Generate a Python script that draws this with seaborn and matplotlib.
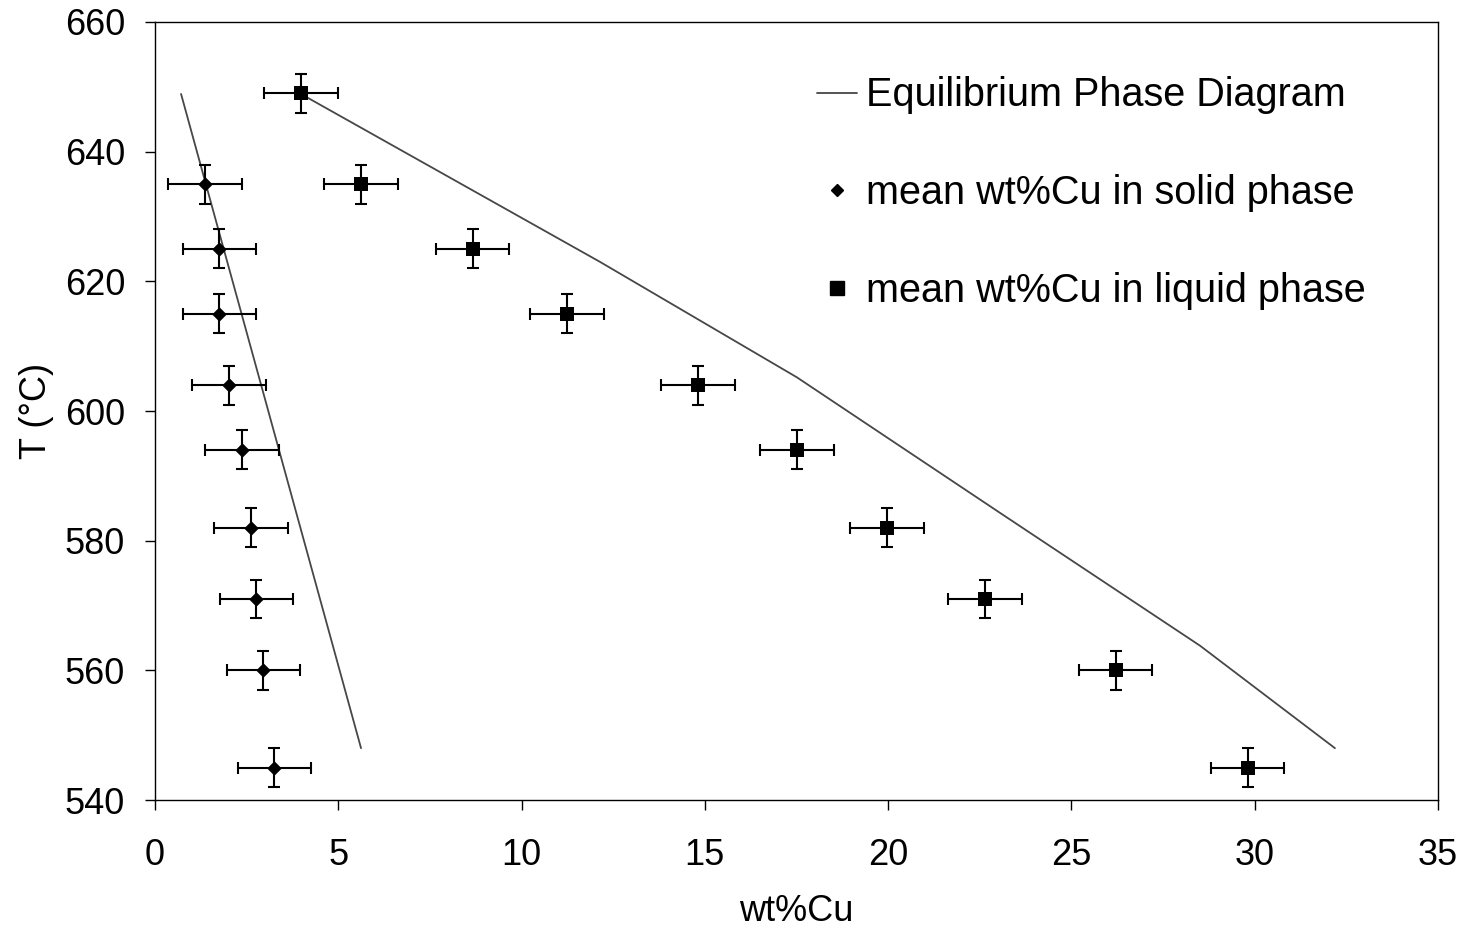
"""Al-Cu phase diagram with measured solid/liquid compositions."""

import matplotlib
matplotlib.use("Agg")
import matplotlib.pyplot as plt
from matplotlib.lines import Line2D
import pandas as pd
import seaborn as sns

# measured compositions (wt%Cu) at each hold temperature
temps = [649, 635, 625, 615, 604, 594, 582, 571, 560, 545]
solid_temps = [635, 625, 615, 604, 594, 582, 571, 560, 545]
solid_wt = [1.36, 1.75, 1.75, 2.02, 2.37, 2.62, 2.76, 2.95, 3.25]
liquid_wt = [3.98, 5.62, 8.67, 11.24, 14.81, 17.51, 19.97, 22.64, 26.21, 29.81]
wt_err = 1.0
t_err = 3.0

# equilibrium boundaries
solidus_wt = [0.71, 5.62]
solidus_t = [648.9, 548.0]
liquidus_wt = [3.98, 12.14, 17.51, 23.05, 28.51, 32.19]
liquidus_t = [648.9, 623.0, 605.2, 584.3, 563.8, 548.0]

x_ticks = [0, 5, 10, 15, 20, 25, 30, 35]
y_ticks = [540, 560, 580, 600, 620, 640, 660]

sns.set_theme(style="white")
plt.rcParams["font.family"] = ["Liberation Sans", "DejaVu Sans"]
plt.rcParams.update({"text.color": "black", "axes.labelcolor": "black",
                     "xtick.color": "black", "ytick.color": "black"})

boundary = pd.DataFrame({
    "wt": solidus_wt + liquidus_wt,
    "T": solidus_t + liquidus_t,
    "curve": ["solidus"] * len(solidus_wt) + ["liquidus"] * len(liquidus_wt),
})
solid = pd.DataFrame({"wt": solid_wt, "T": solid_temps})
liquid = pd.DataFrame({"wt": liquid_wt, "T": temps})

fig = plt.figure(figsize=(14.64, 9.32), dpi=100)
ax = fig.add_axes([0.1059, 0.1416, 0.8763, 0.8348])

line_col = "#474747"
sns.lineplot(data=boundary, x="wt", y="T", units="curve", estimator=None, sort=False,
             color=line_col, linewidth=1.3, ax=ax, legend=False)

for df in (solid, liquid):
    ax.errorbar(df["wt"], df["T"], xerr=wt_err, yerr=t_err, fmt="none",
                ecolor="black", elinewidth=1.5, capsize=4.3, capthick=1.5, zorder=3)

sns.scatterplot(data=solid, x="wt", y="T", marker="D", s=55, color="black",
                edgecolor="black", linewidth=0, ax=ax, zorder=4)
sns.scatterplot(data=liquid, x="wt", y="T", marker="s", s=110, color="black",
                edgecolor="black", linewidth=0, ax=ax, zorder=4)

ax.set_xlim(0, 35)
ax.set_ylim(540, 660)
ax.set_xticks(x_ticks)
ax.set_yticks(y_ticks)
ax.tick_params(axis="both", direction="out", length=7.5, width=1, color="black",
               labelsize=26, left=True, bottom=True)
ax.tick_params(axis="y", pad=14)
ax.tick_params(axis="x", pad=20)
for sp in ax.spines.values():
    sp.set_color("black")
    sp.set_linewidth(1)
ax.set_xlabel("wt%Cu", fontsize=26, labelpad=15)
ax.set_ylabel("T (°C)", fontsize=26, labelpad=8)

handles = [
    Line2D([], [], color=line_col, linewidth=1.3),
    Line2D([], [], color="black", marker="D", markersize=6.5, linestyle="none"),
    Line2D([], [], color="black", marker="s", markersize=9.5, linestyle="none"),
]
labels = ["Equilibrium Phase Diagram", "mean wt%Cu in solid phase",
          "mean wt%Cu in liquid phase"]
ax.legend(handles, labels, loc="upper left", bbox_to_anchor=(0.516, 0.93),
          frameon=False, fontsize=28.5, handlelength=1.0, handletextpad=0.25,
          labelspacing=1.51, borderaxespad=0, borderpad=0)

fig.savefig("out.png", dpi=100)
plt.close(fig)
